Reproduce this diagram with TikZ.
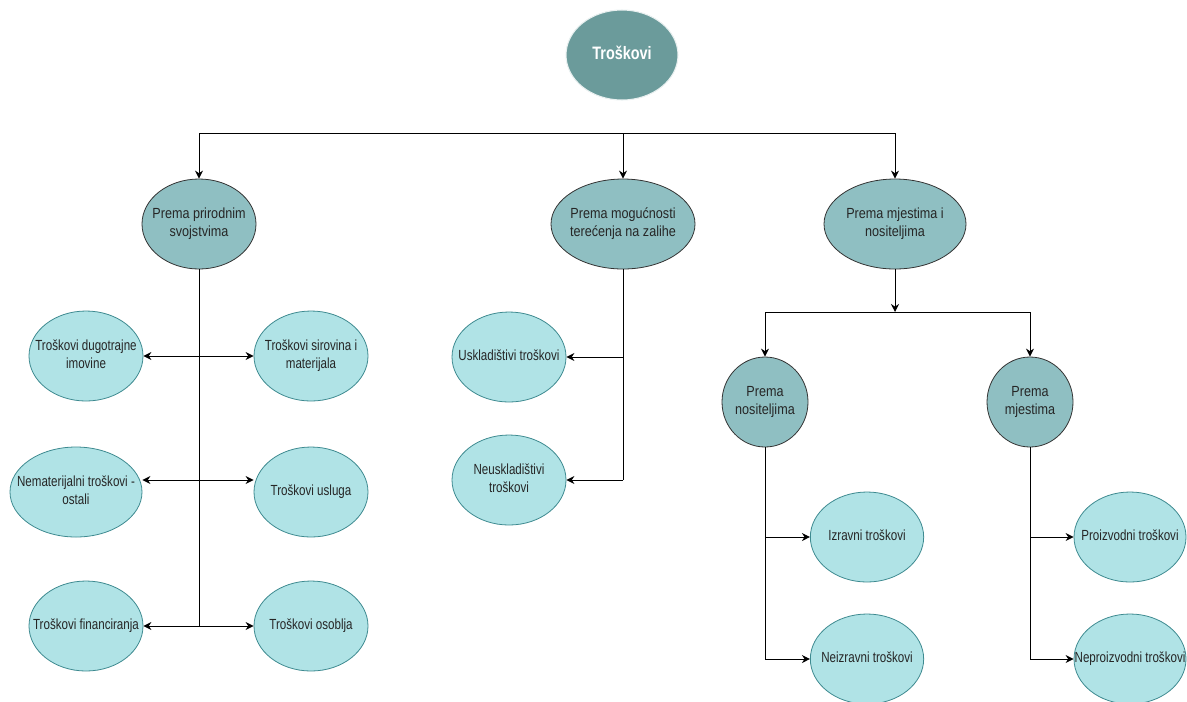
\documentclass[tikz,border=0pt]{standalone}
\usepackage{fontspec}
\setmainfont{Liberation Sans}
\newfontfamily\leaffont{Liberation Sans}[FakeStretch=0.79]
\newfontfamily\midfont{Liberation Sans}[FakeStretch=0.86]
\newfontfamily\topfont{Liberation Sans}[FakeStretch=0.8]
\usetikzlibrary{shapes.geometric,arrows.meta}
\definecolor{topfill}{HTML}{6B9B9B}
\definecolor{midfill}{HTML}{8FBFC2}
\definecolor{leaffill}{HTML}{B0E3E6}
\definecolor{leafdraw}{HTML}{3E8A90}
\newcommand\zwtext[1]{\makebox[0pt]{\begin{tabular}{@{}c@{}}#1\end{tabular}}}
\tikzset{
  topnode/.style={ellipse, fill=topfill, draw=white!85!topfill, line width=0.8pt, inner sep=0pt,
    minimum width=84pt, minimum height=67.5pt, text=white,
    font=\topfont\bfseries\fontsize{13.5}{15}\selectfont},
  midnode/.style={ellipse, fill=midfill, draw=black!80, line width=0.6pt, inner sep=0pt,
    minimum height=67.5pt, text=black!85,
    font=\midfont\fontsize{11}{12.9}\selectfont},
  leafnode/.style={ellipse, fill=leaffill, draw=leafdraw, line width=0.6pt, inner sep=0pt,
    minimum width=85.5pt, minimum height=67.5pt, text=black!85,
    font=\leaffont\fontsize{11}{12.9}\selectfont},
  conn/.style={draw=black, line width=0.75pt},
  arr/.style={conn, -{Stealth[length=6pt,width=6pt]}}
}
\begin{document}
\begin{tikzpicture}[x=0.75pt,y=-0.75pt]
\useasboundingbox (0,0) rectangle (1187,701);
% nodes
\node[topnode] (top) at (622,55) {\zwtext{Troškovi}};
\node[midnode, minimum width=85.5pt] (p1) at (199,224) {\zwtext{Prema prirodnim\\svojstvima}};
\node[midnode, minimum width=108pt] (p2) at (623,224) {\zwtext{Prema mogućnosti\\terećenja na zalihe}};
\node[midnode, minimum width=106.5pt] (p3) at (895,224) {\zwtext{Prema mjestima i\\nositeljima}};
\node[midnode, minimum width=64.5pt] (q1) at (765,402) {\zwtext{Prema\\nositeljima}};
\node[midnode, minimum width=64.5pt] (q2) at (1030,402) {\zwtext{Prema\\mjestima}};

\node[leafnode] (a1) at (86,356) {\zwtext{Troškovi dugotrajne\\imovine}};
\node[leafnode] (b1) at (311,356) {\zwtext{Troškovi sirovina i\\materijala}};
\node[leafnode, minimum width=99pt] (a2) at (76,492) {\zwtext{Nematerijalni troškovi -\\ostali}};
\node[leafnode] (b2) at (311,492) {\zwtext{Troškovi usluga}};
\node[leafnode] (a3) at (86,626) {\zwtext{Troškovi financiranja}};
\node[leafnode] (b3) at (311,626) {\zwtext{Troškovi osoblja}};

\node[leafnode] (u1) at (509,357) {\zwtext{Uskladištivi troškovi}};
\node[leafnode] (u2) at (509,480) {\zwtext{Neuskladištivi\\troškovi}};

\node[leafnode, minimum width=85pt] (r1) at (867,537) {\zwtext{Izravni troškovi}};
\node[leafnode, minimum width=85pt] (r2) at (867,659) {\zwtext{Neizravni troškovi}};
\node[leafnode, minimum width=84pt] (r3) at (1130,537) {\zwtext{Proizvodni troškovi}};
\node[leafnode, minimum width=84pt] (r4) at (1130,659) {\zwtext{Neproizvodni troškovi}};

% junction coordinates
\coordinate (hb) at (623,133);
\coordinate (j1) at (199,356);
\coordinate (j2) at (199,480);
\coordinate (j3) at (199,626);
\coordinate (m1) at (623,357);
\coordinate (m2) at (623,480);
\coordinate (fk) at (895,312);
\coordinate (s1) at (765,537);
\coordinate (s2) at (765,659);
\coordinate (t1) at (1030,537);
\coordinate (t2) at (1030,659);

% top level connectors
\draw[arr] (hb) -| (p1.north);
\draw[arr] (hb) -| (p3.north);
\draw[arr] (hb) -- (p2.north);

% left group
\draw[conn] (p1.south) -- (j3);
\draw[arr] (j1) -- (a1.east |- j1);
\draw[arr] (j1) -- (b1.west |- j1);
\draw[arr] (j2) -- (a2.east |- j2);
\draw[arr] (j2) -- (b2.west |- j2);
\draw[arr] (j3) -- (a3.east |- j3);
\draw[arr] (j3) -- (b3.west |- j3);

% middle group
\draw[conn] (p2.south) -- (m2);
\draw[arr] (m1) -- (u1.east |- m1);
\draw[arr] (m2) -- (u2.east |- m2);

% right group
\draw[arr] (p3.south) -- (fk);
\draw[arr] (fk) -| (q1.north);
\draw[arr] (fk) -| (q2.north);
\draw[conn] (q1.south) -- (s2);
\draw[arr] (s1) -- (r1.west |- s1);
\draw[arr] (s2) -- (r2.west |- s2);
\draw[conn] (q2.south) -- (t2);
\draw[arr] (t1) -- (r3.west |- t1);
\draw[arr] (t2) -- (r4.west |- t2);
\end{tikzpicture}
\end{document}
